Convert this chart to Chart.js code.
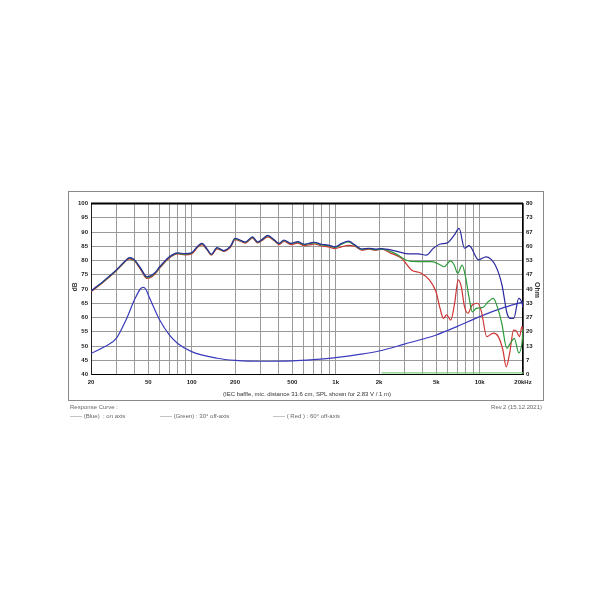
<!DOCTYPE html>
<html>
<head>
<meta charset="utf-8">
<script src="https://cdn.jsdelivr.net/npm/chart.js@4"></script>
<style>
  html, body { margin: 0; padding: 0; background: #fff; }
  #wrap { position: relative; width: 610px; height: 610px; }
  canvas { position: absolute; left: 0; top: 0; }
</style>
</head>
<body>
<div id="wrap"><canvas id="chart-response" width="610" height="610"></canvas></div>
<script>
// frequency grid and labels
const gridFreqs = [20, 30, 40, 50, 60, 70, 80, 90, 100, 200, 300, 400, 500, 600, 700, 800, 900,
  1000, 2000, 3000, 4000, 5000, 6000, 7000, 8000, 9000, 10000, 20000];
const freqLabels = { 20: '20', 50: '50', 100: '100', 200: '200', 500: '500', 1000: '1k', 2000: '2k', 5000: '5k', 10000: '10k', 20000: '20kHz' };
const ohmTicks = [0, 7, 13, 20, 27, 33, 40, 47, 53, 60, 67, 73, 80];

// on axis (blue)
const blueFreq = [20, 25, 30, 34, 37, 40, 44, 49, 55, 60, 70, 80, 90, 100, 110, 118, 128, 137, 150, 167, 187, 200, 220, 236, 265, 287, 310, 338, 375, 404, 438, 489, 545, 605, 672, 712, 795, 888, 989, 1100, 1225, 1366, 1522, 1696, 1890, 2080, 2578, 3181, 3736, 4260, 4770, 5340, 5970, 6660, 7200, 7850, 8450, 9830, 11050, 12830, 14290, 15490, 16330, 17250, 18690, 19710, 20000];
const blueDb = [69.3, 73.2, 76.7, 79.5, 81.0, 80.3, 77.5, 74.3, 75.5, 77.8, 81.3, 82.7, 82.4, 82.7, 85.0, 86.0, 84.0, 82.2, 84.5, 83.5, 85.2, 87.8, 87.0, 86.5, 88.3, 86.5, 87.5, 88.8, 87.2, 86.0, 87.2, 86.0, 86.6, 85.7, 86.2, 86.4, 85.7, 85.4, 84.8, 86.0, 86.8, 85.4, 84.0, 84.3, 84.0, 84.2, 83.4, 82.3, 82.3, 81.9, 84.3, 85.8, 86.2, 88.9, 91.3, 84.3, 85.2, 80.2, 81.3, 78.4, 71.4, 61.5, 59.7, 59.7, 66.7, 65.0, 63.5];

// 30 deg off axis (green)
const greenFreq = [20, 25, 30, 34, 37, 40, 44, 49, 55, 60, 70, 80, 90, 100, 110, 118, 128, 137, 150, 167, 187, 200, 220, 236, 265, 287, 310, 338, 375, 404, 438, 489, 545, 605, 672, 712, 795, 888, 989, 1100, 1225, 1366, 1522, 1696, 1890, 2080, 2578, 3181, 3736, 4650, 5340, 5640, 6300, 6660, 7040, 7550, 7980, 8420, 8880, 9480, 10580, 11460, 12430, 13480, 14240, 15450, 16310, 17410, 18690, 19720, 20000];
const greenDb = [69.2, 73.1, 76.6, 79.4, 80.8, 80.1, 77.3, 74.0, 75.3, 77.6, 81.1, 82.5, 82.2, 82.6, 84.9, 85.9, 83.9, 82.1, 84.4, 83.4, 85.1, 87.6, 86.9, 86.4, 88.1, 86.4, 87.4, 88.6, 87.1, 85.9, 87.0, 85.9, 86.4, 85.6, 86.0, 86.2, 85.5, 85.2, 84.6, 85.7, 86.5, 85.2, 83.9, 84.2, 83.8, 84.0, 82.5, 79.9, 79.6, 79.6, 78.4, 77.8, 79.9, 78.4, 75.5, 78.4, 74.3, 67.3, 62.0, 63.2, 63.6, 65.5, 66.7, 62.6, 58.0, 49.2, 50.9, 52.7, 47.6, 51.5, 56.0];
const greenBaseFreq = [2080, 20000];
const greenBaseDb = [40.6, 40.6];

// 60 deg off axis (red)
const redFreq = [20, 25, 30, 34, 37, 40, 44, 49, 55, 60, 70, 80, 90, 100, 110, 118, 128, 137, 150, 167, 187, 200, 220, 236, 265, 287, 310, 338, 375, 404, 438, 489, 545, 605, 672, 712, 795, 888, 989, 1100, 1225, 1366, 1522, 1696, 1890, 2080, 2430, 2870, 3360, 3940, 4480, 4970, 5310, 5600, 5900, 6300, 6700, 7100, 7450, 7850, 8290, 8880, 9700, 10300, 11200, 12430, 13480, 14500, 15300, 16150, 17200, 17950, 18900, 19700, 20000];
const redDb = [69.0, 72.9, 76.4, 79.2, 80.6, 79.9, 77.0, 73.7, 75.0, 77.3, 80.9, 82.3, 82.0, 82.3, 84.6, 85.6, 83.7, 81.9, 84.1, 83.2, 84.8, 87.3, 86.7, 86.1, 87.8, 86.2, 87.1, 88.3, 86.9, 85.6, 86.7, 85.6, 86.1, 85.2, 85.6, 85.8, 85.1, 84.8, 84.2, 84.8, 85.3, 84.9, 83.6, 84.0, 83.6, 84.0, 82.5, 80.8, 76.7, 75.5, 73.2, 69.1, 63.2, 59.7, 60.9, 59.1, 65.0, 73.2, 70.8, 63.8, 61.5, 64.4, 65.0, 62.0, 53.3, 54.5, 53.3, 48.6, 42.7, 47.4, 55.6, 55.3, 53.3, 56.8, 55.0];

// impedance (Ohm, right axis)
const impFreq = [20, 25, 30, 35, 40, 44, 46, 48, 50, 55, 60, 70, 80, 100, 150, 200, 300, 500, 700, 1000, 1500, 2000, 3000, 5000, 7000, 10000, 15000, 20000];
const impOhm = [9.9, 13.1, 16.9, 25.5, 34.8, 40.0, 40.8, 40.0, 37.2, 30.9, 25.5, 18.5, 14.5, 10.7, 7.6, 6.6, 6.2, 6.4, 7.0, 7.9, 9.5, 11.0, 14.2, 18.5, 22.5, 27.1, 31.5, 34.0];

const toPoints = (xs, ys) => xs.map((x, i) => ({ x: x, y: ys[i] }));
const tickFont = { family: 'Liberation Sans', size: 6, weight: 'bold' };

const curve = (label, xs, ys, color, axis) => ({
  label: label,
  data: toPoints(xs, ys),
  borderColor: color,
  borderWidth: 1.2,
  pointRadius: 0,
  cubicInterpolationMode: 'monotone',
  fill: false,
  yAxisID: axis || 'y'
});

// frame, titles and captions
const framePlugin = {
  id: 'frame',
  afterDraw(chart) {
    const ctx = chart.ctx;
    const a = chart.chartArea;
    ctx.save();
    ctx.strokeStyle = '#8a8a8a';
    ctx.lineWidth = 1;
    ctx.strokeRect(68.5, 191.5, 475, 209);
    ctx.strokeStyle = '#000';
    ctx.lineWidth = 2;
    ctx.beginPath();
    ctx.moveTo(a.left, a.top);
    ctx.lineTo(a.right, a.top);
    ctx.stroke();

    ctx.fillStyle = '#333';
    ctx.font = 'bold 6.5px "Liberation Sans"';
    ctx.textAlign = 'center';
    ctx.textBaseline = 'middle';
    ctx.save();
    ctx.translate(75, 287);
    ctx.rotate(-Math.PI / 2);
    ctx.fillText('dB', 0, 0);
    ctx.restore();
    ctx.save();
    ctx.font = 'bold 7px "Liberation Sans"';
    ctx.translate(537, 290);
    ctx.rotate(Math.PI / 2);
    ctx.fillText('Ohm', 0, 0);
    ctx.restore();

    ctx.font = '6px "Liberation Sans"';
    ctx.fillStyle = '#333';
    ctx.fillText('(IEC baffle, mic. distance 31.6 cm, SPL shown for 2.83 V / 1 m)', 307, 394);

    ctx.fillStyle = '#666';
    ctx.textAlign = 'left';
    ctx.fillText('Response Curve :', 70, 407);
    ctx.fillText('------ (Blue)  : on axis', 70, 416);
    ctx.fillText('------ (Green) : 30\u00b0 off-axis', 160, 416);
    ctx.fillText('------ ( Red ) : 60\u00b0 off-axis', 273, 416);
    ctx.textAlign = 'right';
    ctx.fillText('Rev.2 (15.12.2021)', 542, 407);
    ctx.restore();
  }
};

new Chart(document.getElementById('chart-response'), {
  type: 'line',
  data: {
    datasets: [
      curve('on axis', blueFreq, blueDb, '#2b2b9e'),
      curve('30\u00b0 off-axis', greenFreq, greenDb, '#2f9a3a'),
      curve('60\u00b0 off-axis', redFreq, redDb, '#cf3535'),
      curve('base', greenBaseFreq, greenBaseDb, '#7fcf7f'),
      curve('Impedance', impFreq, impOhm, '#3b3bbd', 'y2')
    ]
  },
  options: {
    responsive: false,
    animation: false,
    layout: { padding: { top: 203.5, left: 0, right: 0, bottom: 0 } },
    plugins: {
      legend: { display: false },
      tooltip: { enabled: false }
    },
    scales: {
      x: {
        type: 'logarithmic',
        min: 20,
        max: 20000,
        afterBuildTicks: (s) => { s.ticks = gridFreqs.map((v) => ({ value: v })); },
        afterFit: (s) => { s.height = 235.5; },
        ticks: {
          autoSkip: false,
          maxRotation: 0,
          padding: 4,
          color: '#222',
          font: tickFont,
          callback: (v) => freqLabels[v] || ''
        },
        grid: { color: '#9a9a9a', lineWidth: 1, drawTicks: false },
        border: { color: '#000', width: 1 }
      },
      y: {
        position: 'left',
        min: 40,
        max: 100,
        afterFit: (s) => { s.width = 91; },
        ticks: { stepSize: 5, padding: 3, color: '#222', font: tickFont },
        grid: { color: '#9a9a9a', lineWidth: 1, drawTicks: false },
        border: { color: '#222', width: 1 }
      },
      y2: {
        position: 'right',
        min: 0,
        max: 80,
        afterFit: (s) => { s.width = 87; },
        afterBuildTicks: (s) => { s.ticks = ohmTicks.map((v, i) => ({ value: i * 80 / 12 })); },
        ticks: {
          padding: 3,
          color: '#222',
          font: tickFont,
          callback: (v, i) => ohmTicks[i]
        },
        grid: { display: false, drawTicks: false },
        border: { color: '#000', width: 1.5 }
      }
    }
  },
  plugins: [framePlugin]
});
</script>
</body>
</html>
